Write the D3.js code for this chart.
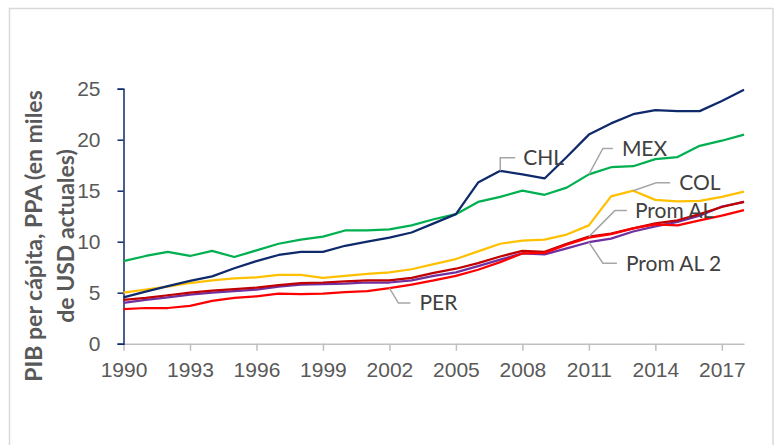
<!DOCTYPE html>
<html>
<head>
<meta charset="utf-8">
<script src="https://cdn.jsdelivr.net/npm/d3@7"></script>
<style>
	html, body { margin: 0; padding: 0; background: #fff; }
	svg { display: block; font-family: Lato, "Open Sans", sans-serif; }
</style>
</head>
<body>
<div id="chart"></div>
<script>
	// DATA
	const years = d3.range(1990, 2019);
	const tickYears = [1990, 1993, 1996, 1999, 2002, 2005, 2008, 2011, 2014, 2017];
	const yTicks = [0, 5, 10, 15, 20, 25];

	const chl = [4.55, 5.1, 5.65, 6.15, 6.6, 7.4, 8.1, 8.7, 9.0, 9.0,
		9.6, 10.0, 10.4, 10.9, 11.8, 12.7, 15.8, 16.95, 16.6, 16.2,
		18.3, 20.5, 21.6, 22.5, 22.9, 22.8, 22.8, 23.8, 24.9];
	const mex = [8.1, 8.6, 9.0, 8.6, 9.1, 8.5, 9.15, 9.8, 10.2, 10.5,
		11.1, 11.1, 11.2, 11.6, 12.2, 12.7, 13.9, 14.4, 15.0, 14.6,
		15.3, 16.6, 17.3, 17.4, 18.1, 18.3, 19.4, 19.9, 20.5];
	const col = [5.0, 5.3, 5.6, 5.95, 6.2, 6.4, 6.5, 6.75, 6.75, 6.45,
		6.65, 6.85, 7.0, 7.3, 7.8, 8.3, 9.05, 9.8, 10.1, 10.2,
		10.7, 11.6, 14.45, 15.0, 14.1, 13.95, 14.0, 14.4, 14.9];
	const promAL = [4.3, 4.5, 4.75, 5.0, 5.2, 5.35, 5.5, 5.75, 5.95, 6.0,
		6.1, 6.2, 6.2, 6.45, 6.95, 7.35, 7.9, 8.55, 9.1, 9.0,
		9.8, 10.5, 10.8, 11.3, 11.8, 12.1, 12.7, 13.4, 13.9];
	const promAL2 = [4.0, 4.3, 4.55, 4.8, 5.0, 5.15, 5.3, 5.6, 5.8, 5.85,
		5.9, 6.0, 6.0, 6.2, 6.65, 7.0, 7.6, 8.25, 8.85, 8.75,
		9.35, 9.95, 10.3, 11.0, 11.5, 11.95, 12.55, 13.45, 13.9];
	const per = [3.4, 3.5, 3.5, 3.7, 4.2, 4.5, 4.65, 4.9, 4.85, 4.9,
		5.05, 5.15, 5.45, 5.8, 6.2, 6.65, 7.25, 8.0, 8.85, 8.9,
		9.7, 10.4, 10.75, 11.3, 11.7, 11.6, 12.1, 12.55, 13.1];

	// drawing order: first is at the bottom
	const series = [
		{ name: "MEX", values: mex, color: "#00B050" },
		{ name: "COL", values: col, color: "#FFC000" },
		{ name: "Prom AL 2", values: promAL2, color: "#7030A0" },
		{ name: "Prom AL", values: promAL, color: "#C00000" },
		{ name: "PER", values: per, color: "#FF0000" },
		{ name: "CHL", values: chl, color: "#0F2A6B" }
	];

	// label callouts: year the leader starts at, elbow offset, line end, text start
	const callouts = [
		{ name: "CHL", year: 2007, dx: 0, dy: -13, ex: 15, tx: 23 },
		{ name: "MEX", year: 2011, dx: 14, dy: -26, ex: 24, tx: 33 },
		{ name: "COL", year: 2013, dx: 23, dy: -8, ex: 37, tx: 46 },
		{ name: "Prom AL", year: 2011, dx: 26, dy: -26, ex: 38, tx: 46 },
		{ name: "Prom AL 2", year: 2011, dx: 14, dy: 21, ex: 28, tx: 37 },
		{ name: "PER", year: 2002, dx: 9, dy: 15, ex: 21, tx: 30 }
	];

	const width = 774, height = 445;
	const svg = d3.select("#chart").append("svg")
		.attr("width", width).attr("height", height);

	// chart frame
	svg.append("rect")
		.attr("x", 9.5).attr("y", 8.5)
		.attr("width", 763.5).attr("height", 460)
		.attr("fill", "none")
		.attr("stroke", "#D9D9D9")
		.attr("stroke-width", 1.5);

	const x = d3.scaleLinear().domain([1990, 2018]).range([123.5, 744]);
	const y = d3.scaleLinear().domain([0, 25]).range([343.7, 88.7]);

	// X axis
	const xAxisG = svg.append("g")
		.attr("transform", `translate(0,${y(0)})`)
		.call(d3.axisBottom(x).tickValues(tickYears).tickFormat(d3.format("d"))
			.tickSize(7).tickSizeOuter(0).tickPadding(11));
	xAxisG.select(".domain").attr("stroke", "#BFBFBF").attr("stroke-width", 1.5);
	xAxisG.selectAll(".tick line").attr("stroke", "#BFBFBF").attr("stroke-width", 1.5);
	xAxisG.selectAll(".tick text")
		.attr("fill", "#595959")
		.style("font-size", "21px");

	// Y axis
	const yAxisG = svg.append("g")
		.attr("transform", `translate(${x(1990)},0)`)
		.call(d3.axisLeft(y).tickValues(yTicks).tickSize(6).tickSizeOuter(6).tickPadding(17));
	yAxisG.select(".domain").attr("stroke", "#0F2A6B").attr("stroke-width", 1.5);
	yAxisG.selectAll(".tick line").attr("stroke", "#0F2A6B").attr("stroke-width", 1.5);
	yAxisG.selectAll(".tick text")
		.attr("fill", "#595959")
		.style("font-size", "21px");

	// Y title
	const title = svg.append("text")
		.attr("transform", "translate(0,236) rotate(-90)")
		.attr("text-anchor", "middle")
		.attr("fill", "#595959")
		.style("font-size", "23px")
		.style("font-weight", "bold");
	title.append("tspan").attr("x", 0).attr("y", 42).text("PIB per cápita, PPA (en miles");
	title.append("tspan").attr("x", 0).attr("y", 74).text("de USD actuales)");

	// Lines
	const line = d3.line()
		.x((d, i) => x(years[i]))
		.y(d => y(d));

	svg.append("g").selectAll("path")
		.data(series)
		.enter().append("path")
		.attr("d", d => line(d.values))
		.attr("fill", "none")
		.attr("stroke", d => d.color)
		.attr("stroke-width", 2.25)
		.attr("stroke-linejoin", "round");

	// Callouts
	const valueOf = (name, year) => series.find(s => s.name === name).values[years.indexOf(year)];
	const cg = svg.append("g");
	callouts.forEach(c => {
		const px = x(c.year), py = y(valueOf(c.name, c.year));
		cg.append("polyline")
			.attr("points", [[px, py], [px + c.dx, py + c.dy], [px + c.ex, py + c.dy]].join(" "))
			.attr("fill", "none")
			.attr("stroke", "#A6A6A6")
			.attr("stroke-width", 1.5);
		cg.append("text")
			.attr("x", px + c.tx)
			.attr("y", py + c.dy)
			.attr("dy", "0.35em")
			.attr("fill", "#404040")
			.style("font-size", "21px")
			.text(c.name);
	});
</script>
</body>
</html>
